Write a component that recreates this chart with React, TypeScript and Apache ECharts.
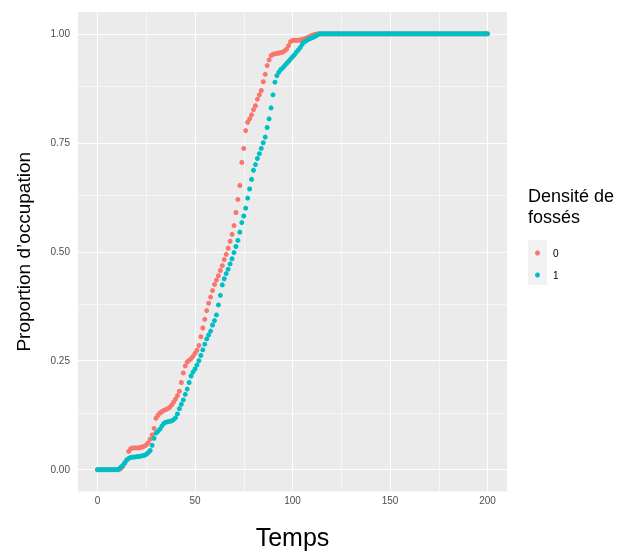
import React, { useEffect, useRef } from "react";
import * as echarts from "echarts";

// Proportion d'occupation at each time step (Temps = index 0..200)
const densite0 = [
  0, 0, 0, 0, 0, 0, 0, 0, 0, 0,
  0, 0, 0.003, 0.008, 0.015, 0.023, 0.042, 0.048, 0.05, 0.05,
  0.05, 0.05, 0.051, 0.052, 0.054, 0.057, 0.062, 0.07, 0.08, 0.095,
  0.118, 0.125, 0.13, 0.133, 0.136, 0.138, 0.14, 0.143, 0.148, 0.155,
  0.162, 0.17, 0.18, 0.2, 0.222, 0.238, 0.247, 0.251, 0.255, 0.26,
  0.267, 0.274, 0.285, 0.305, 0.325, 0.345, 0.365, 0.382, 0.396, 0.411,
  0.425, 0.435, 0.445, 0.457, 0.468, 0.482, 0.494, 0.508, 0.524, 0.54,
  0.56, 0.59, 0.62, 0.652, 0.705, 0.737, 0.778, 0.797, 0.805, 0.814,
  0.826, 0.835, 0.85, 0.86, 0.87, 0.89, 0.907, 0.927, 0.94, 0.95,
  0.953, 0.954, 0.955, 0.956, 0.957, 0.958, 0.961, 0.965, 0.973, 0.982,
  0.985, 0.985, 0.985, 0.985, 0.986, 0.987, 0.988, 0.99, 0.992, 0.994,
  0.996, 0.998, 0.999, 1, 1, 1, 1, 1, 1, 1,
  1, 1, 1, 1, 1, 1, 1, 1, 1, 1,
  1, 1, 1, 1, 1, 1, 1, 1, 1, 1,
  1, 1, 1, 1, 1, 1, 1, 1, 1, 1,
  1, 1, 1, 1, 1, 1, 1, 1, 1, 1,
  1, 1, 1, 1, 1, 1, 1, 1, 1, 1,
  1, 1, 1, 1, 1, 1, 1, 1, 1, 1,
  1, 1, 1, 1, 1, 1, 1, 1, 1, 1,
  1, 1, 1, 1, 1, 1, 1, 1, 1, 1,
  1,
];

const densite1 = [
  0, 0, 0, 0, 0, 0, 0, 0, 0, 0,
  0, 0.002, 0.006, 0.01, 0.016, 0.022, 0.026, 0.028, 0.029, 0.029,
  0.03, 0.03, 0.031, 0.032, 0.033, 0.035, 0.039, 0.044, 0.056, 0.072,
  0.084, 0.088, 0.093, 0.1, 0.106, 0.109, 0.11, 0.111, 0.112, 0.115,
  0.119, 0.128, 0.14, 0.15, 0.16, 0.173, 0.185, 0.2, 0.215, 0.224,
  0.231, 0.24, 0.25, 0.262, 0.275, 0.288, 0.3, 0.309, 0.318, 0.332,
  0.342, 0.355, 0.378, 0.4, 0.424, 0.438, 0.45, 0.46, 0.472, 0.484,
  0.498, 0.512, 0.526, 0.545, 0.567, 0.582, 0.6, 0.623, 0.644, 0.666,
  0.687, 0.7, 0.714, 0.725, 0.737, 0.75, 0.763, 0.785, 0.805, 0.83,
  0.86, 0.889, 0.904, 0.912, 0.918, 0.922, 0.927, 0.932, 0.937, 0.942,
  0.947, 0.952, 0.958, 0.963, 0.969, 0.976, 0.981, 0.984, 0.987, 0.989,
  0.991, 0.993, 0.995, 0.998, 1, 1, 1, 1, 1, 1,
  1, 1, 1, 1, 1, 1, 1, 1, 1, 1,
  1, 1, 1, 1, 1, 1, 1, 1, 1, 1,
  1, 1, 1, 1, 1, 1, 1, 1, 1, 1,
  1, 1, 1, 1, 1, 1, 1, 1, 1, 1,
  1, 1, 1, 1, 1, 1, 1, 1, 1, 1,
  1, 1, 1, 1, 1, 1, 1, 1, 1, 1,
  1, 1, 1, 1, 1, 1, 1, 1, 1, 1,
  1, 1, 1, 1, 1, 1, 1, 1, 1, 1,
  1,
];

const seriesNames = ["0", "1"];
const seriesColors = ["#F8766D", "#00BFC4"];
const xMajorTicks = [0, 50, 100, 150, 200];
const xMinorTicks = [25, 75, 125, 175];
const yMajorTicks = [0, 0.25, 0.5, 0.75, 1];
const yMinorTicks = [0.125, 0.375, 0.625, 0.875];

const FONT = "'Liberation Sans', Arial, Helvetica, sans-serif";

export default function App() {
  const ref = useRef<HTMLDivElement>(null);

  useEffect(() => {
    if (!ref.current) return;
    const chart = echarts.init(ref.current, null, { renderer: "svg" });

    const gridLines = [
      ...xMinorTicks.map((v) => ({ xAxis: v, lineStyle: { width: 0.55 } })),
      ...yMinorTicks.map((v) => ({ yAxis: v, lineStyle: { width: 0.55 } })),
      ...xMajorTicks.map((v) => ({ xAxis: v, lineStyle: { width: 1.1 } })),
      ...yMajorTicks.map((v) => ({ yAxis: v, lineStyle: { width: 1.1 } })),
    ];

    const toPoints = (arr: number[]) => arr.map((v, t) => [t, v]);

    chart.setOption({
      animation: false,
      textStyle: { fontFamily: FONT },
      grid: {
        left: 78,
        top: 12,
        width: 429,
        height: 485,
        show: true,
        backgroundColor: "#EBEBEB",
        borderWidth: 0,
      },
      xAxis: {
        type: "value",
        min: -10,
        max: 210,
        name: "Temps",
        nameLocation: "middle",
        nameGap: 33,
        nameTextStyle: { fontSize: 25, color: "#000000", fontFamily: FONT, lineHeight: 24 },
        axisLine: { show: false },
        axisTick: {
          show: true,
          length: 3,
          customValues: xMajorTicks,
          lineStyle: { color: "#333333", width: 1 },
        },
        axisLabel: {
          customValues: xMajorTicks,
          fontSize: 10,
          color: "#4D4D4D",
          margin: 4,
          fontFamily: FONT,
        },
        splitLine: { show: false },
      },
      yAxis: {
        type: "value",
        min: -0.05,
        max: 1.05,
        name: "Proportion d’occupation",
        nameLocation: "middle",
        nameGap: 45,
        nameTextStyle: { fontSize: 19, color: "#000000", fontFamily: FONT },
        axisLine: { show: false },
        axisTick: {
          show: true,
          length: 3,
          customValues: yMajorTicks,
          lineStyle: { color: "#333333", width: 1 },
        },
        axisLabel: {
          customValues: yMajorTicks,
          fontSize: 10,
          color: "#4D4D4D",
          margin: 8,
          fontFamily: FONT,
          formatter: (v: number) => v.toFixed(2),
        },
        splitLine: { show: false },
      },
      legend: {
        data: seriesNames,
        orient: "vertical",
        left: 535,
        top: 247,
        padding: 0,
        itemWidth: 5,
        itemHeight: 5,
        itemGap: 10,
        icon: "circle",
        textStyle: {
          fontSize: 10,
          color: "#000000",
          lineHeight: 12,
          fontFamily: FONT,
          padding: [0, 0, 0, 8],
        },
        selectedMode: false,
      },
      graphic: [
        {
          type: "rect",
          left: 528,
          top: 240,
          z: -1,
          shape: { width: 19, height: 45 },
          style: { fill: "#F2F2F2" },
          silent: true,
        },
        {
          type: "text",
          left: 528,
          top: 185,
          style: {
            text: "Densité de\nfossés",
            font: `18px ${FONT}`,
            fill: "#000000",
            lineHeight: 21,
          },
          silent: true,
        },
      ],
      series: [
        {
          name: seriesNames[0],
          type: "scatter",
          data: toPoints(densite0),
          symbol: "circle",
          symbolSize: 5,
          itemStyle: { color: seriesColors[0], opacity: 1 },
          z: 3,
          silent: true,
          markLine: {
            silent: true,
            symbol: ["none", "none"],
            label: { show: false },
            z: 1,
            lineStyle: { color: "#FFFFFF", type: "solid" },
            emphasis: { disabled: true },
            data: gridLines,
          },
        },
        {
          name: seriesNames[1],
          type: "scatter",
          data: toPoints(densite1),
          symbol: "circle",
          symbolSize: 5,
          itemStyle: { color: seriesColors[1], opacity: 1 },
          z: 4,
          silent: true,
        },
      ],
    });

    return () => chart.dispose();
  }, []);

  return (
    <div
      ref={ref}
      style={{
        position: "fixed",
        left: 0,
        top: 0,
        width: 621,
        height: 554,
        overflow: "hidden",
      }}
    />
  );
}
